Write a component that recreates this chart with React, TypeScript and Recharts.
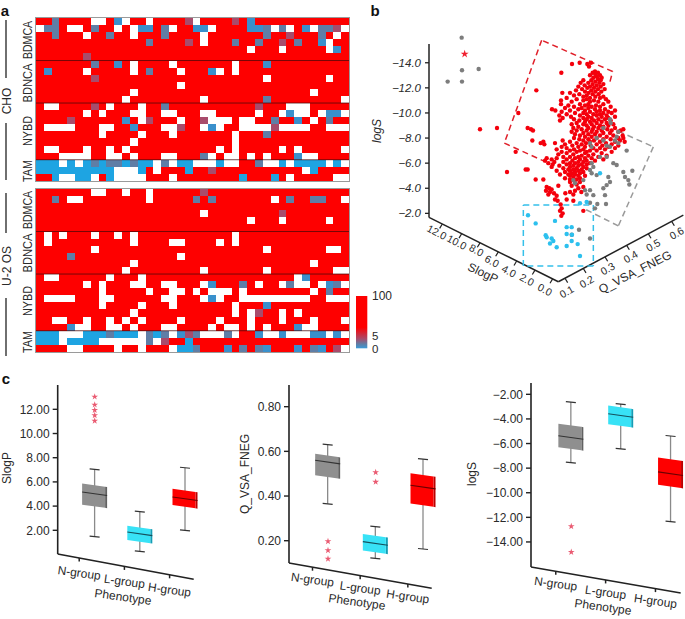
import {
  Bar,
  ComposedChart,
  ReferenceLine,
  Scatter,
  ScatterChart,
  Symbols,
  XAxis,
  YAxis,
} from 'recharts';

const FONT = '"Liberation Sans", Arial, sans-serif';
const TEXT = '#2a2a2a';

// panel a: each row lists the cells that are not red, as column + colour code
const heatColumns = 40;
const heatRowCount = 23;
const heatSeparators = [6, 12, 20];
const heatColors: Record<string, string> = {
  r: '#fe0000',
  w: '#ffffff',
  b: '#3a90cc',
  c: '#1ea4e2',
  m: '#5f7ea6',
  p: '#a84c6c',
};

const choRows = [
  '2m 7-8w 10b 11w 14w 19p 20w 25p 27b',
  '0w 1-2m 4-5w 7m 10w 12w 13-14b 16m 17w 20-21b 22w 27-28b 29m 30w 31m 32w 34b 35w 36-37m 38p 39w',
  '2m 6w 9m 12w 16m 21w 29m 32p 36m 38w',
  '14m 19p 21w 25m 28m 31p 33m 36b 37w',
  '27w 31w 37w 38b',
  '6p',
  '7m 10b 12w 17w 25w 29b',
  '1b 6w 12w 14m 18w 22b 23w 25w',
  '7p 29w 37w',
  '18w',
  '12w 35w',
  '11w 21w 29m 39w',
  '1-2w 7p 9w 13w 16m 28p 32-34w',
  '6w 8w 12-13w 16-17w 21-22w 28w 31w 32b 33-34w 36w 37-38b 39w',
  '4p 11b 13w 14p 18w 21p 22-24w 26-27w 30m 33b 35w 37m',
  '1-4w 8-9w 12b 16-17w 18p 21w 22b 23w 26-29w 30p 31-34w 37-39w',
  '8w 13w 17w 25w 29m',
  '12w 25w',
  '1-2w 6w 9w 11w 23w 25w 31w 33w 39w',
  '3-6w 9-10w 12w 16-17w 21m 22w 24-25w 27w 29w 33b 34-35w',
  '0-2c 3w 4c 5w 6c 7m 8c 9-10m 11c 12m 13-14c 15w 16m 17w 18-19c 20-22w 23c 24-25w 28m 29-30w 31c 32w 33-36c 37w 38c 39w',
  '0-9c 10-12w 13c 15w 19c 22p 34w 35c',
  '2c 3-4w 5-6c 7w 9c 10-13w 17w 26c 30c 32w 38-39w',
];

const u2osRows = [
  '7-8w 11w 14w 21p',
  '2m 4-5w 14w 20m 22m 30w 32m 35-36m 39w',
  '',
  '21w 31p',
  '27w 31w 37w',
  '',
  '1w 3w 7w 10w 12w 25w',
  '1w 12w 17-18w 23w 25w',
  '7w 29w 37-38w',
  '4m 18w',
  '12w 35w',
  '11w 21w 29w 38-39w',
  '1-2w 9w 13w 33w 34b',
  '6w 8w 12-13w 16-17w 21w 22b 26m 28w 31w 32m 33-34w 36w 37b 38m 39w',
  '8w 14w 17w 18w 20w 22-24w 26w 35w 37m',
  '1-4w 8-9w 16-17w 21w 22b 23w 26-34w 37-39w',
  '8w 13w 17w 25w 29b',
  '12w 25w 27w 28p 31w 33w',
  '2-3w 6w 9w 11w 13w 18w 23w 27w 31w 35w 39w',
  '4b 5-6w 9-10w 12w 16-17w 22w 24-25w 27w 29w 33b 34-35w',
  '0-2c 3-5w 6-8c 9m 10-12c 13w 14m 15c 16m 17w 18b 19p 20m 21-23w 24m 25w 28b 29-30w 31b 32-34w 35-36b 37w 38b 39w',
  '0-2c 3w 4-7c 8-13w 14m 15w 16p 19c',
  '4-5w 10w 13w 17w 18-19c 20m 24b 26m 28m 29b 33b 35m 36b 38p 39w',
];

// panel b: red compounds as [apparent logS, projected x positions]
const redBands: [number, number[]][] = [
  [-14.0, [629, 663]], [-13.9, [606, 652]], [-13.7, [657]], [-13.3, [675]], [-13.2, [574, 668, 684]],
  [-13.1, [676]], [-13.0, [660, 690]], [-12.9, [680]], [-12.8, [670, 695]], [-12.7, [684]],
  [-12.6, [640, 664, 692]], [-12.5, [676]], [-12.4, [632, 655, 688]], [-12.3, [668, 700]], [-12.2, [644, 680]],
  [-12.1, [625, 660, 692]], [-12.0, [652, 672]], [-11.9, [636, 684, 704]], [-11.8, [499, 618, 664]],
  [-11.7, [645, 676, 694]], [-11.6, [577, 600, 656]], [-11.5, [628, 668, 686]], [-11.4, [612, 650]],
  [-11.3, [640, 676, 700]], [-11.2, [590, 660, 690]], [-11.1, [620, 650, 708]], [-11.0, [573, 640, 672]],
  [-10.9, [605, 660, 685, 715]], [-10.7, [573, 630, 655, 700]], [-10.6, [595, 645, 678]],
  [-10.5, [612, 665, 690, 722]], [-10.4, [585, 635, 655]], [-10.3, [546, 625, 675, 705]],
  [-10.2, [556, 600, 645, 690, 735]], [-10.1, [575, 660, 680, 715]], [-10.0, [445, 615, 640, 700, 725]],
  [-9.9, [590, 650, 670, 690]], [-9.8, [568, 630, 680, 710]], [-9.7, [603, 655, 695, 735]],
  [-9.6, [578, 640, 665, 715]], [-9.5, [612, 650, 685, 705]], [-9.4, [570, 628, 672, 722]],
  [-9.3, [645, 660, 695]], [-9.2, [620, 680, 710]], [-9.1, [605, 640, 665, 730]], [-9.0, [650, 690, 715]],
  [-8.9, [625, 672, 700]], [-8.8, [381, 473, 610, 655, 685, 735]], [-8.7, [330, 483, 635, 668, 712, 760]],
  [-8.6, [489, 620, 650, 695, 725, 752]], [-8.5, [605, 665, 680, 745]], [-8.4, [640, 700, 720]],
  [-8.3, [615, 655, 675]], [-8.2, [630, 690, 730, 758]], [-8.1, [645, 665, 710]],
  [-8.0, [612, 680, 745, 760]], [-7.9, [628, 655, 700, 722]], [-7.8, [487, 578, 640, 672, 750]],
  [-7.7, [520, 600, 660, 690, 735, 764]], [-7.6, [512, 555, 620, 648, 708]], [-7.5, [523, 585, 635, 680, 725]],
  [-7.4, [607, 662, 697, 745]], [-7.3, [575, 625, 645, 715]], [-7.2, [590, 670, 690, 735]],
  [-7.1, [560, 612, 640, 705]], [-7.0, [600, 630, 660, 680]], [-6.9, [437, 575, 620, 650, 725]],
  [-6.8, [590, 645, 695]], [-6.7, [565, 610, 670]], [-6.6, [635, 655, 710]], [-6.5, [580, 600, 625, 685]],
  [-6.4, [530, 560, 615, 645, 665]], [-6.3, [545, 590, 630, 700]], [-6.2, [525, 607, 650, 675]],
  [-6.1, [553, 580, 625, 640]], [-6.0, [535, 600, 615, 660]], [-5.9, [548, 590, 635, 650]],
  [-5.8, [568, 610, 625]], [-5.7, [545, 600, 640]], [-5.6, [580, 620, 650]], [-5.5, [467, 473, 595, 610, 635]],
  [-5.4, [560, 600, 625]], [-5.3, [411, 585, 615, 640]], [-5.2, [605, 630]], [-5.1, [570, 595, 615]],
  [-5.0, [600, 625, 645]], [-4.9, [610]], [-4.8, [585, 630]], [-4.7, [497, 520, 600, 620]], [-4.6, [613]],
  [-4.5, [600, 630]], [-4.3, [620]], [-4.2, [565, 605]], [-4.1, [530, 640]], [-4.0, [538, 625]], [-3.9, [545]],
  [-3.8, [528, 615]], [-3.7, [540, 600, 634]], [-3.6, [552, 586]], [-3.5, [535, 610]], [-3.4, [560]],
  [-3.1, [555, 590]], [-3.0, [563, 610]], [-2.7, [572]], [-2.4, [575]], [-2.2, [570, 640]], [-2.0, [578]], [-1.8, [574]],
];

const greyPoints = [
  [275, -16.0], [276, -13.4], [326, -13.5], [233, -12.5], [276, -12.5],
  [720, -9.5], [722, -9.2], [700, -8.8], [745, -8.5], [740, -8.1], [735, -7.8], [710, -7.4], [745, -7.6],
  [770, -7.0], [660, -7.6], [665, -7.3], [680, -8.0], [700, -7.8], [720, -7.3], [690, -6.5], [710, -6.5],
  [730, -6.0], [740, -5.85], [760, -5.3], [787, -5.4], [765, -4.9], [775, -4.65], [778, -4.3], [715, -4.9],
  [720, -4.5], [710, -4.25], [700, -4.0], [705, -3.45], [665, -6.0], [670, -5.7], [660, -5.45], [665, -5.2],
  [680, -5.05], [610, -4.65], [615, -4.4], [640, -4.65], [645, -3.85], [660, -3.85], [650, -3.5], [670, -3.45],
  [682, -2.75], [708, -2.75], [675, -2.4], [660, -2.85], [627, -0.7], [660, 0.0], [605, -0.3],
];

const cyanPoints = [
  [474, -1.85], [497, -1.2], [555, -1.4], [590, -0.9], [605, -0.9], [590, -0.35], [606, -0.3], [527, -0.25],
  [530, -0.1], [545, 0.0], [550, 0.2], [540, 0.4], [560, 0.7], [605, 0.2], [590, 0.6], [623, 0.45], [630, 1.4],
  [630, -2.8], [650, -2.9], [690, -5.2],
];

const starPoint = [[284, -14.7]];
const logSTicks = [-14, -12, -10, -8, -6, -4, -2];

// dashed selections and the floor of the 3D box, as [x, logS] paths
const redOutline = [[720, -12.5], [728, -13.3], [515, -15.8], [403, -7.6], [535, -6.0]];
const greyOutline = [[745, -8.55], [850, -7.3], [745, -1.0], [640, -2.4]];
const cyanOutline = [[460, -2.66], [670, -2.66], [670, 2.2], [460, 2.2], [460, -2.66]];
const slogPFloor = [[177, -1.68], [565, 3.45]];
const fnegFloor = [[565, 3.45], [940, -1.86]];
const logSAxis = [[177, -15.5], [177, -1.68]];
const slogPTicks = ['12.0', '10.0', '8.0', '6.0', '4.0', '2.0', '0.0'];
const slogPTickPos = [[217, -1.15], [275, -0.38], [330, 0.35], [385, 1.07], [440, 1.8], [495, 2.52], [548, 3.22]];
const fnegTicks = ['0.1', '0.2', '0.3', '0.4', '0.5', '0.6'];
const fnegTickPos = [[585, 3.17], [640, 2.39], [705, 1.47], [770, 0.55], [835, -0.37], [905, -1.36]];

// panel c: [low whisker, q1, median, q3, high whisker] for N, L and H groups
const groups = ['N-group', 'L-group', 'H-group'];
const groupPositions = [1, 2, 3];
const boxFills = ['#8f8f8f', '#38e2f6', '#fe0000'];
const boxSides = ['#626262', '#159db5', '#bb0000'];
const boxMedians = ['#333333', '#15505c', '#6a0000'];

const slogPStats = [
  [1.47, 3.97, 5.02, 5.72, 7.04],
  [0.26, 1.05, 1.71, 2.23, 3.54],
  [2.0, 3.94, 4.61, 5.29, 7.17],
];
const slogPOutliers = [[1, 13.04], [1, 12.38], [1, 11.94], [1, 11.5], [1, 11.05]];
const slogPValueTicks = [2, 4, 6, 8, 10, 12];

const fnegStats = [
  [0.365, 0.485, 0.552, 0.581, 0.63],
  [0.121, 0.148, 0.188, 0.222, 0.263],
  [0.163, 0.358, 0.44, 0.494, 0.565],
];
const fnegOutliers = [[1, 0.197], [1, 0.157], [1, 0.119], [2, 0.506], [2, 0.463]];
const fnegValueTicks = [0.2, 0.4, 0.6, 0.8];

const logSStats = [
  [-7.55, -6.44, -5.51, -4.53, -2.63],
  [-6.44, -4.57, -3.72, -3.06, -2.79],
  [-12.35, -9.5, -8.45, -7.28, -5.39],
];
const logSOutliers = [[1, -12.73], [1, -14.82]];
const logSValueTicks = [-2, -4, -6, -8, -10, -12, -14];

const minus = (s: string) => s.replace('-', '\u2212');

function parseRows(rows: string[]) {
  const cells: {col: number; row: number; code: string}[] = [];
  rows.forEach((line, row) => {
    const codes = new Array(heatColumns).fill('r');
    line.split(' ').filter(Boolean).forEach((token) => {
      const m = token.match(/^(\d+)(?:-(\d+))?([a-z])$/);
      if (!m) return;
      const from = +m[1];
      const to = m[2] ? +m[2] : from;
      for (let c = from; c <= to; c++) codes[c] = m[3];
    });
    codes.forEach((code, col) => cells.push({col: col + 0.5, row: row + 0.5, code}));
  });
  return cells;
}

function HeatCell({cx, cy, payload}: any) {
  const w = 313 / heatColumns;
  const h = 163 / heatRowCount;
  return (
    <rect
      x={cx - w / 2}
      y={cy - h / 2}
      width={w}
      height={h}
      fill={heatColors[payload.code]}
      shapeRendering="crispEdges"
    />
  );
}

function Heatmap({rows, top}: {rows: string[]; top: number}) {
  return (
    <div style={{position: 'absolute', left: 36, top, outline: '1px solid #9a9a9a'}}>
      <ScatterChart width={313} height={163} margin={{top: 0, right: 0, bottom: 0, left: 0}}>
        <XAxis type="number" dataKey="col" domain={[0, heatColumns]} hide />
        <YAxis type="number" dataKey="row" domain={[0, heatRowCount]} reversed hide />
        <Scatter data={parseRows(rows)} shape={<HeatCell />} isAnimationActive={false} />
      </ScatterChart>
    </div>
  );
}

function pathLines(path: number[][], stroke: string, dash?: string, width = 1.5) {
  return path.slice(1).map((p, i) => (
    <ReferenceLine
      key={`${stroke}-${i}-${p[0]}-${p[1]}`}
      segment={[{x: path[i][0], y: path[i][1]}, {x: p[0], y: p[1]}]}
      stroke={stroke}
      strokeWidth={width}
      strokeDasharray={dash}
    />
  ));
}

const redPoints = redBands.flatMap(([y, xs]) => xs.map((x) => ({x, y})));
const asXY = (list: number[][]) => list.map(([x, y]) => ({x, y}));

function Dot({cx, cy, fill}: any) {
  return <circle cx={cx} cy={cy} r={2.2} fill={fill} />;
}

function Star({cx, cy, fill, size = 16}: any) {
  return <Symbols type="star" cx={cx} cy={cy} size={size} fill={fill} />;
}

function Scatter3D() {
  return (
    <div style={{position: 'absolute', left: 370, top: 0}}>
      <ScatterChart width={315} height={310} margin={{top: 0, right: 0, bottom: 0, left: 0}}>
        <XAxis type="number" dataKey="x" domain={[177, 945]} hide />
        <YAxis
          type="number"
          dataKey="y"
          domain={[-19, 5.7]}
          reversed
          width={59}
          ticks={logSTicks}
          axisLine={false}
          tickSize={4}
          tickMargin={4}
          tickLine={{stroke: '#222', strokeWidth: 1.3}}
          tickFormatter={(v: number) => minus(v.toFixed(1))}
          tick={{fill: TEXT, fontSize: 11.5, fontFamily: FONT, fontStyle: 'italic'}}
        />
        {pathLines(logSAxis, '#222222')}
        {pathLines(slogPFloor, '#222222')}
        {pathLines(fnegFloor, '#222222')}
        {slogPTickPos.map(([x, y]) => pathLines([[x, y], [x - 8, y + 0.35]], '#222222', undefined, 1.2))}
        {fnegTickPos.map(([x, y]) => pathLines([[x, y], [x + 8, y + 0.35]], '#222222', undefined, 1.2))}
        {pathLines(redOutline, '#e0202a', '6 4')}
        {pathLines(greyOutline, '#9a9a9a', '6 4')}
        {pathLines(cyanOutline, '#35c0ea', '6 4')}
        <Scatter data={redPoints} fill="#f4000c" shape={<Dot />} isAnimationActive={false} />
        <Scatter data={asXY(greyPoints)} fill="#7d7d7d" shape={<Dot />} isAnimationActive={false} />
        <Scatter data={asXY(cyanPoints)} fill="#2cc0ee" shape={<Dot />} isAnimationActive={false} />
        <Scatter data={asXY(starPoint)} fill="#f02030" shape={<Star size={20} />} isAnimationActive={false} />
      </ScatterChart>
    </div>
  );
}

function BoxShape({x, y, width, height, payload, index}: any) {
  const [lo, q1, med, q3, hi] = payload.stats;
  const perUnit = height / (hi - lo);
  const at = (v: number) => y + (hi - v) * perUnit;
  const cx = x + width / 2;
  const left = cx - width / 2;
  const mid = cx + width / 2 - 2;
  const right = cx + width / 2;
  const s = 1.8;
  return (
    <g>
      <line x1={cx} x2={cx} y1={y} y2={y + height} stroke="#8a8a8a" strokeWidth={1.3} />
      <line x1={cx - 5} x2={cx + 5} y1={y - 0.5} y2={y + 0.5} stroke="#333" strokeWidth={1.2} />
      <line x1={cx - 5} x2={cx + 5} y1={y + height - 0.5} y2={y + height + 0.5} stroke="#333" strokeWidth={1.2} />
      <polygon
        points={`${mid},${at(q3) + s - 0.4} ${right},${at(q3) + s} ${right},${at(q1) + s} ${mid},${at(q1) + s - 0.4}`}
        fill={boxSides[index]}
      />
      <polygon
        points={`${left},${at(q3) - s} ${mid},${at(q3) + s - 0.4} ${mid},${at(q1) + s - 0.4} ${left},${at(q1) - s}`}
        fill={boxFills[index]}
      />
      <line x1={left} x2={right} y1={at(med) - s} y2={at(med) + s} stroke={boxMedians[index]} strokeWidth={1.1} />
    </g>
  );
}

function GroupTick({x, y, payload, slope, plotRight, gap}: any) {
  const markX = x - 15.5;
  const floorY = y - (plotRight - markX) * slope;
  return (
    <g>
      <line x1={markX} x2={markX} y1={floorY} y2={floorY + 3.5} stroke="#222" strokeWidth={1.5} />
      <text
        x={markX}
        y={floorY + gap}
        textAnchor="middle"
        dominantBaseline="central"
        fontSize={12}
        fontFamily={FONT}
        fill={TEXT}
        transform={`rotate(8 ${markX} ${floorY + gap})`}
      >
        {groups[payload.value - 1]}
      </text>
    </g>
  );
}

interface BoxPanelProps {
  axisX: number;
  left: number;
  top: number;
  plotWidth: number;
  plotHeight: number;
  xDomain: number[];
  yDomain: number[];
  floorValue: number;
  stats: number[][];
  outliers: number[][];
  valueTicks: number[];
  digits: number;
  slope: number;
  gap: number;
}

function BoxPanel(p: BoxPanelProps) {
  const rows = groups.map((name, i) => ({
    x: groupPositions[i],
    name,
    range: [p.stats[i][0], p.stats[i][4]],
    stats: p.stats[i],
  }));
  const yw = p.axisX - p.left;
  const [x0, x1] = p.xDomain;
  const [yMin, yMax] = p.yDomain;
  return (
    <div style={{position: 'absolute', left: p.left, top: p.top}}>
      <ComposedChart
        width={yw + p.plotWidth + 4}
        height={p.plotHeight + 30}
        data={rows}
        margin={{top: 0, right: 4, bottom: 0, left: 0}}
      >
        <XAxis
          type="number"
          dataKey="x"
          domain={p.xDomain}
          ticks={groupPositions}
          height={30}
          axisLine={false}
          tickLine={false}
          tickSize={0}
          tickMargin={0}
          interval={0}
          tick={(t: any) => <GroupTick {...t} slope={p.slope} plotRight={yw + p.plotWidth} gap={p.gap} />}
        />
        <YAxis
          type="number"
          domain={p.yDomain}
          width={yw}
          ticks={p.valueTicks}
          axisLine={false}
          tickSize={5}
          tickMargin={3}
          tickLine={{stroke: '#222', strokeWidth: 1.4}}
          tickFormatter={(v: number) => minus(v.toFixed(p.digits))}
          tick={{fill: TEXT, fontSize: 12, fontFamily: FONT}}
        />
        <ReferenceLine segment={[{x: x0, y: yMax}, {x: x0, y: p.floorValue}]} stroke="#222" strokeWidth={1.6} />
        <ReferenceLine segment={[{x: x0, y: p.floorValue}, {x: x1, y: yMin}]} stroke="#222" strokeWidth={1.6} />
        <Bar dataKey="range" barSize={25} shape={<BoxShape />} isAnimationActive={false} />
        <Scatter
          data={asXY(p.outliers)}
          dataKey="y"
          fill="#ea5b72"
          shape={<Star size={14} />}
          isAnimationActive={false}
        />
      </ComposedChart>
    </div>
  );
}

function Label({x, y, text, rotate = 0, size = 12, bold = false, italic = false, anchor = 'middle', stretch}: any) {
  return (
    <text
      x={x}
      y={y}
      textAnchor={anchor}
      dominantBaseline="central"
      fontFamily={FONT}
      fontSize={size}
      fontWeight={bold ? 700 : 400}
      fontStyle={italic ? 'italic' : 'normal'}
      fill={bold ? '#111' : TEXT}
      textLength={stretch}
      lengthAdjust={stretch ? 'spacingAndGlyphs' : undefined}
      transform={rotate ? `rotate(${rotate} ${x} ${y})` : undefined}
    >
      {text}
    </text>
  );
}

const heatTops = [18, 189];
const heatLabelsCho = [['BDMCA', 40, 38], ['BDNCA', 83, 39], ['NYBD', 131, 30], ['TAM', 171, 22]];
const heatLabelsU2 = [['BDMCA', 210, 38], ['BDNCA', 253, 39], ['NYBD', 301, 30], ['TAM', 342, 22]];
const sideRules = [[20, 78], [123, 180], [193, 233], [298, 356]];
const slogPTickLabels = [[437, 232], [457, 242], [476.5, 250], [492, 261], [509, 271], [527, 279.5], [545, 289.5]];
const fnegTickLabels = [[566.5, 291.5], [586.5, 281.5], [607.5, 268.5], [630.5, 256.5], [653, 245], [676.5, 233]];

function Overlay() {
  return (
    <svg width={685} height={619} style={{position: 'absolute', left: 0, top: 0, pointerEvents: 'none'}}>
      <defs>
        <linearGradient id="heatLegend" x1="0" y1="0" x2="0" y2="1">
          <stop offset="0.6" stopColor="#fe0000" />
          <stop offset="0.82" stopColor="#a84c6c" />
          <stop offset="0.92" stopColor="#5f7ea6" />
          <stop offset="1" stopColor="#3a9ad8" />
        </linearGradient>
      </defs>
      <Label x={5} y={10} text="a" bold size={15} />
      <Label x={375} y={10} text="b" bold size={15} />
      <Label x={6} y={378} text="c" bold size={15} />

      {heatTops.flatMap((top) =>
        heatSeparators.map((row) => {
          const y = top + (row * 163) / heatRowCount;
          return <line key={y} x1={36} x2={349} y1={y} y2={y} stroke="#4a0808" strokeOpacity={0.75} strokeWidth={1} />;
        }),
      )}

      {sideRules.map(([a, b]) => (
        <line key={a} x1={6} x2={6} y1={a} y2={b} stroke="#222" strokeWidth={1.3} />
      ))}
      <Label x={7} y={101} text="CHO" rotate={-90} />
      <Label x={7} y={266} text="U-2 OS" rotate={-90} />
      {[...heatLabelsCho, ...heatLabelsU2].map(([t, y, len]: any) => (
        <Label key={`${t}${y}`} x={28} y={y} text={t} rotate={-90} size={12} stretch={len} />
      ))}

      <rect x={356} y={296} width={11.3} height={52.3} fill="url(#heatLegend)" />
      <Label x={372} y={296} text="100" anchor="start" size={12} />
      <Label x={372} y={336} text="5" anchor="start" size={11.5} />
      <Label x={372} y={348.5} text="0" anchor="start" size={11.5} />

      <Label x={377} y={131} text="logS" rotate={-90} italic />
      <Label x={483} y={273} text="SlogP" rotate={25} />
      <Label x={635} y={272} text="Q_VSA_FNEG" rotate={-27} />
      {slogPTicks.map((t, i) => (
        <Label key={t} x={slogPTickLabels[i][0]} y={slogPTickLabels[i][1]} text={t} rotate={28} size={10.5} />
      ))}
      {fnegTicks.map((t, i) => (
        <Label key={t} x={fnegTickLabels[i][0]} y={fnegTickLabels[i][1]} text={t} rotate={-30} size={10.5} />
      ))}

      <Label x={7} y={468} text="SlogP" rotate={-90} />
      <Label x={245} y={474} text="Q_VSA_FNEG" rotate={-90} />
      <Label x={472} y={474} text="logS" rotate={-90} />
      <Label x={123} y={597} text="Phenotype" rotate={8} />
      <Label x={357} y={602} text="Phenotype" rotate={8} />
      <Label x={603} y={607} text="Phenotype" rotate={8} />
    </svg>
  );
}

export default function App() {
  return (
    <div style={{position: 'absolute', left: 0, top: 0, width: 685, height: 619, background: '#fff', overflow: 'hidden'}}>
      <Heatmap rows={choRows} top={heatTops[0]} />
      <Heatmap rows={u2osRows} top={heatTops[1]} />
      <Scatter3D />
      <BoxPanel
        axisX={57.7}
        left={0}
        top={385}
        plotWidth={136}
        plotHeight={194.3}
        xDomain={[0.181, 3.19]}
        yDomain={[-2.05, 14.01]}
        floorValue={0.04}
        stats={slogPStats}
        outliers={slogPOutliers}
        valueTicks={slogPValueTicks}
        digits={2}
        slope={0.186}
        gap={15}
      />
      <BoxPanel
        axisX={289}
        left={232}
        top={385}
        plotWidth={142.7}
        plotHeight={203.3}
        xDomain={[0.182, 3.175]}
        yDomain={[-0.013, 0.897]}
        floorValue={0.1}
        stats={fnegStats}
        outliers={fnegOutliers}
        valueTicks={fnegValueTicks}
        digits={2}
        slope={0.177}
        gap={12.5}
      />
      <BoxPanel
        axisX={531}
        left={474}
        top={382.7}
        plotWidth={149.7}
        plotHeight={210}
        xDomain={[0.192, 3.195]}
        yDomain={[-18.15, -1.08]}
        floorValue={-16.04}
        stats={logSStats}
        outliers={logSOutliers}
        valueTicks={logSValueTicks}
        digits={2}
        slope={0.174}
        gap={12.5}
      />
      <Overlay />
    </div>
  );
}
